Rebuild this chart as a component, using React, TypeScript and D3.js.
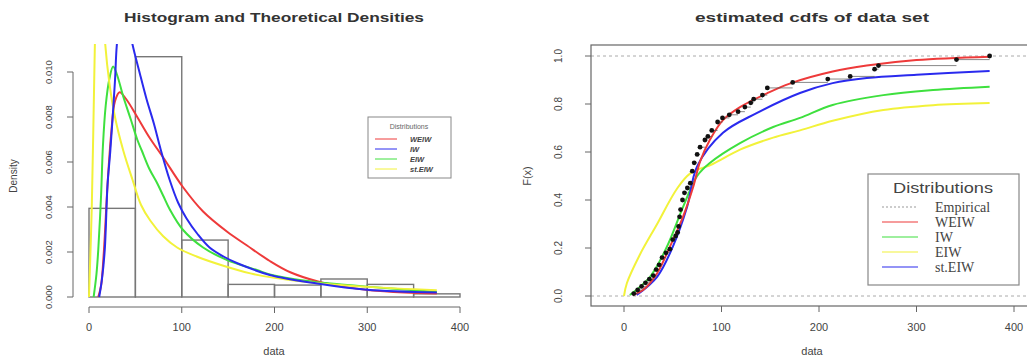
import React from "react";
import * as d3 from "d3";

// ---------- Histogram data ----------
const histBreaks = [0, 50, 100, 150, 200, 250, 300, 350, 400];
const histDensity = [0.00394, 0.01068, 0.00253, 0.00056, 0.00053, 0.0008, 0.00056, 0.00014];

// ---------- Density curves (x, density) ----------
const weiwDensX = [10, 13, 16, 20, 24, 28, 33, 40, 52, 65, 80, 101, 123, 149, 170, 195, 217, 246, 275, 303, 340, 375];
const weiwDensY = [0, 0.0005, 0.002, 0.005, 0.0073, 0.0087, 0.0091, 0.0088, 0.008, 0.0071, 0.0062, 0.0049, 0.0038, 0.0029, 0.0023, 0.0016, 0.0011, 0.0007, 0.00045, 0.0003, 0.0002, 0.00015];

const iwDensX = [5, 8, 10, 13, 15, 18, 22, 26, 30, 37, 45, 52, 57, 65, 73, 80, 87, 101, 123, 149, 181, 195, 220, 246, 275, 303, 340, 375];
const iwDensY = [0, 0.001, 0.0021, 0.0045, 0.0067, 0.0085, 0.0097, 0.01024, 0.0099, 0.0089, 0.0079, 0.007, 0.0065, 0.0057, 0.0051, 0.0045, 0.0039, 0.003, 0.0022, 0.00164, 0.0012, 0.001, 0.0008, 0.00066, 0.00055, 0.00045, 0.00033, 0.00022];

const eiwDensX = [0, 3, 6, 8, 12, 15, 17, 22, 28, 37, 47, 56, 66, 80, 95, 116, 144, 174, 200, 250, 300, 375];
const eiwDensY = [0, 0.004, 0.0105, 0.014, 0.017, 0.0135, 0.0115, 0.0095, 0.008, 0.0065, 0.0052, 0.0041, 0.0034, 0.0027, 0.0022, 0.0018, 0.0014, 0.00105, 0.00085, 0.0006, 0.00045, 0.0003];

const stEiwDensX = [11, 14, 17, 20, 23, 28, 30, 34, 38, 42, 46, 55, 62, 70, 77, 87, 96, 105, 117, 130, 145, 160, 195, 246, 300, 375];
const stEiwDensY = [0, 0.0008, 0.0021, 0.005, 0.0065, 0.0096, 0.0112, 0.0125, 0.013, 0.0125, 0.0114, 0.0099, 0.0088, 0.0077, 0.0066, 0.0052, 0.0042, 0.0035, 0.0028, 0.0022, 0.0018, 0.0015, 0.00098, 0.0006, 0.00032, 0.0002];

// ---------- Empirical cdf ----------
const empX = [10, 14, 18, 22, 26, 30, 33, 36, 39, 43, 47, 50, 53, 55, 56, 57, 58, 60, 62, 65, 68, 70, 72, 75, 78, 83, 86, 90, 96, 101, 108, 117, 124, 130, 133, 142, 147, 173, 209, 232, 257, 261, 341, 375];
const empF = [0.01, 0.025, 0.04, 0.055, 0.07, 0.085, 0.11, 0.13, 0.16, 0.18, 0.195, 0.235, 0.25, 0.265, 0.29, 0.33, 0.36, 0.4, 0.43, 0.45, 0.47, 0.52, 0.555, 0.59, 0.62, 0.65, 0.665, 0.69, 0.725, 0.742, 0.755, 0.768, 0.787, 0.805, 0.82, 0.837, 0.867, 0.89, 0.904, 0.915, 0.945, 0.96, 0.985, 1.0];

// ---------- CDF curves ----------
const weiwCdfX = [9, 19.5, 34, 47, 60.5, 71, 78, 88, 101.5, 119, 147, 170, 214, 249, 300, 375];
const weiwCdfY = [0.004, 0.025, 0.095, 0.205, 0.33, 0.455, 0.56, 0.65, 0.733, 0.787, 0.845, 0.885, 0.935, 0.96, 0.983, 0.997];

const iwCdfX = [6, 26.7, 44, 60.5, 75, 88, 119, 153, 180.5, 214, 266, 317, 375];
const iwCdfY = [0.004, 0.08, 0.205, 0.37, 0.5, 0.554, 0.637, 0.704, 0.742, 0.796, 0.837, 0.858, 0.872];

const eiwCdfX = [0, 3, 16, 34, 54, 67.7, 91, 119, 153, 180.5, 214, 266, 317, 375];
const eiwCdfY = [0, 0.054, 0.17, 0.3, 0.445, 0.51, 0.55, 0.61, 0.66, 0.69, 0.73, 0.775, 0.795, 0.804];

const stEiwCdfX = [13, 34, 50, 64.6, 75, 101.5, 136, 180.5, 214, 249, 300, 375];
const stEiwCdfY = [0.004, 0.08, 0.205, 0.37, 0.54, 0.68, 0.762, 0.846, 0.887, 0.908, 0.922, 0.938];

// ---------- Ticks / labels ----------
const xTicks = [0, 100, 200, 300, 400];
const densTicks = [0, 0.002, 0.004, 0.006, 0.008, 0.01];
const densTickLabels = ["0.000", "0.002", "0.004", "0.006", "0.008", "0.010"];
const cdfTicks = [0, 0.2, 0.4, 0.6, 0.8, 1.0];
const cdfTickLabels = ["0.0", "0.2", "0.4", "0.6", "0.8", "1.0"];
const leftLegendLabels = ["WEIW", "IW", "EIW", "st.EIW"];
const rightLegendLabels = ["Empirical", "WEIW", "IW", "EIW", "st.EIW"];

const RED = "#ee3a3a";
const GREEN = "#3ee03e";
const YELLOW = "#f2f23a";
const BLUE = "#2a2aee";
const AXIS = "#666";
const TXT = "#444";

function zip(xs: number[], ys: number[]): [number, number][] {
  return xs.map((x, i) => [x, ys[i]]);
}

export default function App() {
  const xL = d3.scaleLinear().domain([0, 400]).range([89, 460]);
  const yL = d3.scaleLinear().domain([0, 0.01]).range([297, 72]);
  const xR = d3.scaleLinear().domain([0, 400]).range([624, 1014]);
  const yR = d3.scaleLinear().domain([0, 1]).range([296, 56]);

  const lineL = d3
    .line<[number, number]>()
    .x((d) => xL(d[0]))
    .y((d) => yL(d[1]))
    .curve(d3.curveCatmullRom.alpha(0.5));
  const lineR = d3
    .line<[number, number]>()
    .x((d) => xR(d[0]))
    .y((d) => yR(d[1]))
    .curve(d3.curveCatmullRom.alpha(0.5));

  const densSeries = [
    { x: weiwDensX, y: weiwDensY, c: RED },
    { x: iwDensX, y: iwDensY, c: GREEN },
    { x: eiwDensX, y: eiwDensY, c: YELLOW },
    { x: stEiwDensX, y: stEiwDensY, c: BLUE },
  ];
  const cdfSeries = [
    { x: eiwCdfX, y: eiwCdfY, c: YELLOW },
    { x: iwCdfX, y: iwCdfY, c: GREEN },
    { x: stEiwCdfX, y: stEiwCdfY, c: BLUE },
    { x: weiwCdfX, y: weiwCdfY, c: RED },
  ];

  const leftLegendColors = [RED, BLUE, GREEN, YELLOW];
  const rightLegendColors = ["#999", RED, GREEN, YELLOW, BLUE];

  const plotLeftL = 74, plotRightL = 475, plotTopL = 44, plotBotL = 307;
  const boxL = 591, boxR = 1033, boxT = 45, boxB = 306;

  return (
    <svg
      width={1027}
      height={358}
      style={{ position: "absolute", left: 0, top: 0, background: "#fff" }}
      fontFamily="Liberation Sans, Arial, sans-serif"
    >
      <defs>
        <clipPath id="clipL">
          <rect x={plotLeftL} y={plotTopL} width={plotRightL - plotLeftL} height={plotBotL - plotTopL} />
        </clipPath>
        <clipPath id="clipR">
          <rect x={boxL} y={boxT} width={boxR - boxL} height={boxB - boxT} />
        </clipPath>
      </defs>

      {/* ================= LEFT PANEL ================= */}
      <text x={274} y={22} textAnchor="middle" fontWeight="bold" fontSize={13} fill="#333" textLength={300} lengthAdjust="spacingAndGlyphs">
        Histogram and Theoretical Densities
      </text>

      <g>
        {histDensity.map((h, i) => (
          <rect
            key={i}
            x={xL(histBreaks[i])}
            y={yL(h)}
            width={xL(histBreaks[i + 1]) - xL(histBreaks[i])}
            height={yL(0) - yL(h)}
            fill="none"
            stroke="#777"
            strokeWidth={1.4}
          />
        ))}
      </g>

      <g clipPath="url(#clipL)">
        {densSeries.map((s, i) => (
          <path key={i} d={lineL(zip(s.x, s.y)) || ""} fill="none" stroke={s.c} strokeWidth={2} strokeLinejoin="round" />
        ))}
      </g>

      <line x1={xL(0)} x2={xL(400)} y1={plotBotL} y2={plotBotL} stroke={AXIS} />
      {xTicks.map((t) => (
        <g key={t}>
          <line x1={xL(t)} x2={xL(t)} y1={plotBotL} y2={plotBotL + 6} stroke={AXIS} />
          <text x={xL(t)} y={331} textAnchor="middle" fontSize={11} fill={TXT}>
            {t}
          </text>
        </g>
      ))}
      <text x={274} y={355} textAnchor="middle" fontSize={11} fill={TXT}>data</text>

      <line x1={73} x2={73} y1={yL(0)} y2={yL(0.01)} stroke={AXIS} />
      {densTicks.map((t, i) => (
        <g key={t}>
          <line x1={73} x2={67} y1={yL(t)} y2={yL(t)} stroke={AXIS} />
          <text transform={`translate(52,${yL(t)}) rotate(-90)`} textAnchor="middle" fontSize={9.5} fill={TXT}>
            {densTickLabels[i]}
          </text>
        </g>
      ))}
      <text transform={`translate(17,176) rotate(-90)`} textAnchor="middle" fontSize={10} fill={TXT}>Density</text>

      <rect x={368} y={117} width={83} height={61} fill="#fff" stroke="#888" strokeWidth={1} />
      <text x={409} y={129} textAnchor="middle" fontSize={7} fill="#666">Distributions</text>
      {leftLegendLabels.map((lab, i) => (
        <g key={lab}>
          <line x1={375} x2={397} y1={139 + i * 10} y2={139 + i * 10} stroke={leftLegendColors[i]} strokeWidth={1} />
          <text x={410} y={142 + i * 10} fontSize={7.5} fontWeight="bold" fontStyle="italic" fill="#444">
            {lab}
          </text>
        </g>
      ))}

      {/* ================= RIGHT PANEL ================= */}
      <text x={812} y={22} textAnchor="middle" fontWeight="bold" fontSize={13} fill="#333" textLength={234} lengthAdjust="spacingAndGlyphs">
        estimated cdfs of data set
      </text>

      <line x1={boxL} x2={1027} y1={yR(0)} y2={yR(0)} stroke="#aaa" strokeDasharray="3,3" />
      <line x1={boxL} x2={1027} y1={yR(1)} y2={yR(1)} stroke="#aaa" strokeDasharray="3,3" />

      <g clipPath="url(#clipR)">
        {cdfSeries.map((s, i) => (
          <path key={i} d={lineR(zip(s.x, s.y)) || ""} fill="none" stroke={s.c} strokeWidth={2} strokeLinejoin="round" />
        ))}
        {empX.map((x, i) =>
          i < empX.length - 1 ? (
            <line key={"s" + i} x1={xR(x)} x2={xR(empX[i + 1])} y1={yR(empF[i])} y2={yR(empF[i])} stroke="#555" strokeWidth={0.7} />
          ) : null
        )}
        {empX.map((x, i) => (
          <circle key={"p" + i} cx={xR(x)} cy={yR(empF[i])} r={2.4} fill="#111" />
        ))}
      </g>

      <rect x={boxL} y={boxT} width={boxR - boxL} height={boxB - boxT} fill="none" stroke={AXIS} strokeWidth={1.2} />

      {xTicks.map((t) => (
        <g key={t}>
          <line x1={xR(t)} x2={xR(t)} y1={boxB} y2={boxB + 6} stroke={AXIS} />
          <text x={xR(t)} y={331} textAnchor="middle" fontSize={11} fill={TXT}>
            {t}
          </text>
        </g>
      ))}
      <text x={812} y={355} textAnchor="middle" fontSize={11} fill={TXT}>data</text>

      {cdfTicks.map((t, i) => (
        <g key={t}>
          <line x1={boxL} x2={boxL - 6} y1={yR(t)} y2={yR(t)} stroke={AXIS} />
          <text transform={`translate(562,${yR(t)}) rotate(-90)`} textAnchor="middle" fontSize={10} fill={TXT}>
            {cdfTickLabels[i]}
          </text>
        </g>
      ))}
      <text transform={`translate(531,176) rotate(-90)`} textAnchor="middle" fontSize={11} fill={TXT}>F(x)</text>

      <rect x={868} y={174} width={151} height={111} fill="#fff" stroke="#888" strokeWidth={1.2} />
      <text x={943} y={193} textAnchor="middle" fontSize={14} fill="#444" textLength={100} lengthAdjust="spacingAndGlyphs">
        Distributions
      </text>
      {rightLegendLabels.map((lab, i) => (
        <g key={lab}>
          <line
            x1={882}
            x2={918}
            y1={207 + i * 15}
            y2={207 + i * 15}
            stroke={rightLegendColors[i]}
            strokeWidth={1.2}
            strokeDasharray={i === 0 ? "2,2" : undefined}
          />
          <text x={935} y={212 + i * 15} fontSize={14} fontFamily="Liberation Serif, Times New Roman, serif" fill="#444">
            {lab}
          </text>
        </g>
      ))}
    </svg>
  );
}
